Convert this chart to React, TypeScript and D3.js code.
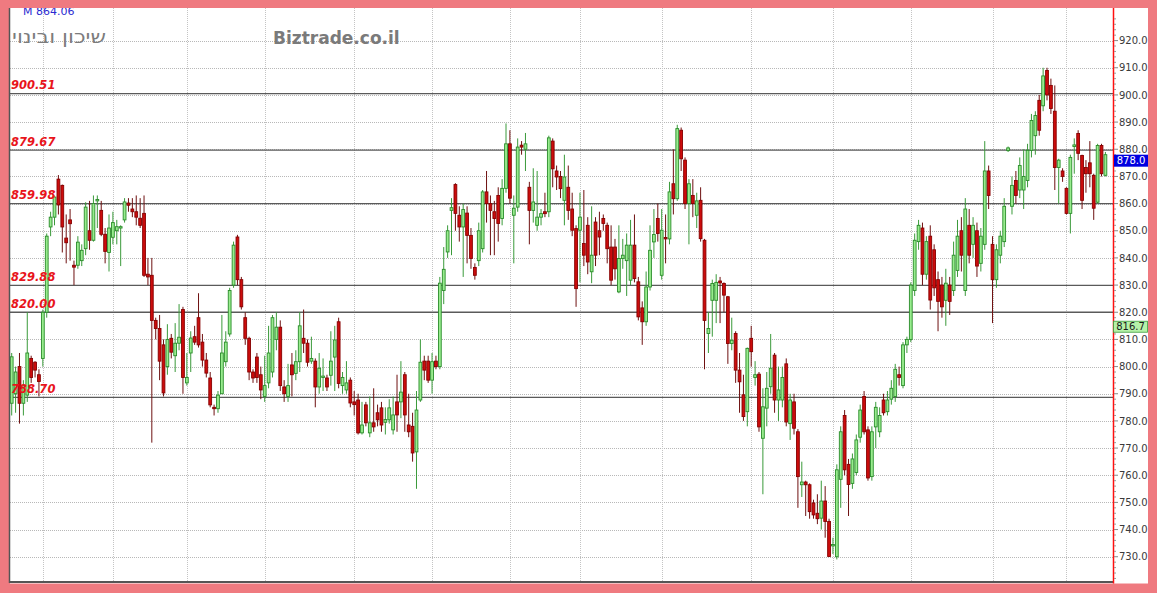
import React from 'react';
import * as d3 from 'd3';

// ---- data ----
const opens = [
  786.5, 790, 800, 786.5, 789.5, 803, 801.6, 797, 803, 820,
  851.4, 855, 869, 866.7, 847.3, 854, 837.3, 837.3, 839, 843.4,
  850, 846.5, 861, 857.5, 848.7, 842, 847.6, 850, 851, 854,
  860.2, 858, 857, 854.6, 856.4, 834, 833.6, 817, 814, 808,
  800, 810.4, 804, 808.6, 821, 794, 805, 811, 818, 809,
  802.4, 795.8, 785, 784.5, 790, 801.8, 812, 830, 847.7, 832,
  818, 810.4, 798, 803.5, 797, 789, 794, 798, 810, 814.5,
  792.5, 789, 800.6, 797.5, 801.8, 810.4, 808.6, 802, 802, 792.5,
  796, 795.8, 796.8, 803.5, 816.5, 793, 791.4, 795, 787, 787.7,
  775.6, 785.9, 775.6, 779.3, 783, 784.8, 779.5, 780.4, 776.7, 787,
  787, 797, 778.5, 778, 768.6, 787.7, 802, 802, 795, 802,
  800, 828, 842.2, 857.5, 867, 855.7, 851.4, 856.5, 848.3, 836.5,
  839, 843.4, 864.3, 860, 857, 863, 854.5, 865.6, 882, 855.7,
  858.7, 881.5, 880, 866, 857.5, 852, 855, 857, 857, 883,
  872, 870, 861.2, 866, 858, 850.8, 850.2, 845.3, 852, 834.9,
  853.2, 850, 854.5, 852, 844, 844, 827.5, 839.8, 839, 831.8,
  844.7, 831.2, 821.6, 816.5, 829.3, 845.9, 854.5, 833.6, 847.5, 847,
  867.3, 861.8, 887, 876, 860, 863, 855.7, 861.2, 846.5, 812.2,
  824.4, 824.4, 831.5, 830.6, 825.7, 808.5, 812.2, 798.7, 789.6, 783.4,
  810.4, 796, 797.2, 773.6, 784.7, 792.6, 804.2, 787.7, 787.7, 801,
  779, 787, 776, 756.5, 757.5, 756.5, 749.8, 746, 744.2, 750.5,
  743, 734, 730, 758.5, 782, 764, 757, 761, 774, 789,
  776.7, 759.5, 777.8, 776, 787.7, 783.4, 788, 789, 797, 793,
  808, 810, 828, 846, 851, 834, 848, 843, 832, 830,
  824.4, 830, 828, 835.4, 850, 828, 852, 845, 850, 838,
  845, 872, 845, 832, 841, 846, 879.5, 859, 868.5, 865,
  865, 868.5, 879.6, 885, 898, 896, 909, 903.5, 894, 873.3,
  872, 865.6, 856.4, 881, 885.8, 877.7, 873.3, 875, 870.4, 860.5,
  881.4, 870.4,
];
const highs = [
  805, 800, 805, 795, 820, 804, 802, 799, 821, 849,
  857, 863, 870.5, 867, 856, 858, 839, 848, 845, 860.5,
  861, 863, 863, 861, 851, 856, 857, 854, 852, 862,
  862, 862, 863, 862, 863, 840, 840, 818, 819, 810,
  815.6, 812, 816, 823, 822, 805, 813, 815, 827, 812,
  805, 798, 786, 791, 819, 813, 829, 846, 848.5, 833,
  820, 811, 799, 805, 800, 804, 815, 819, 820, 817,
  795, 801, 805, 806, 820, 821, 810, 811, 803, 805,
  803, 797, 813, 815, 818, 798, 802, 796, 791, 790,
  787, 787, 789, 792, 786, 787, 785, 788, 789, 797,
  802, 798, 790, 783, 791, 810, 804, 804, 805, 804,
  833, 844, 852, 862, 867.5, 859, 860, 859, 851, 838,
  853, 865, 872, 863, 861, 866, 869, 889.5, 887, 863,
  884, 883, 886, 868, 873, 872, 858, 864, 885, 884,
  874, 872, 878, 874, 864, 852, 864, 865, 855, 859,
  855, 857, 856, 853, 852, 847, 852, 847, 849, 854,
  856, 833, 824, 835, 852, 858, 860, 858, 856, 868,
  880, 889, 888, 877, 869, 869, 864, 866, 847, 820,
  832, 834, 833, 831, 826, 818, 813, 805, 797, 807,
  815, 802, 798, 792, 798, 812, 805, 800, 800, 803,
  790, 790, 777, 765, 758, 757, 751, 753, 758, 756,
  744, 737, 764, 778, 784, 766, 768, 775, 786, 791,
  778, 778, 787, 785, 790, 791, 795, 801, 800, 809,
  811, 831, 849, 854, 853, 848, 852, 845, 835, 833,
  836, 833, 846, 854, 855, 862, 858, 855, 853, 851,
  883, 874, 848, 845, 850, 862, 881, 870, 872, 877,
  880, 882, 893, 894, 900, 910, 910, 906, 903.5, 876.5,
  873, 866, 878, 884, 887, 878, 876, 883, 871, 882,
  882, 879,
];
const lows = [
  782, 783, 779, 782, 787, 794, 796, 789, 800, 818,
  848, 852, 856, 842, 838, 839, 830, 836, 837, 841,
  843, 846, 851, 848, 838, 835, 845, 845, 837, 853,
  857, 855, 852, 851, 833, 830, 772, 810, 795, 789,
  797, 803, 798, 806, 790, 793, 798, 808, 807, 800,
  796, 785, 782, 783, 790, 800, 811, 829, 830, 821,
  808, 795, 794, 794, 788, 787, 792, 796, 806, 791,
  787, 787, 789, 795, 798, 805, 800, 801, 785, 790,
  791, 791, 793, 791, 792, 790, 790, 785, 782, 775,
  775, 778, 774, 776, 778, 776, 775, 779, 775, 776,
  781, 776, 774, 765, 755, 787, 795, 794, 790, 799,
  799, 823, 840, 841, 850, 846, 833, 838, 836, 832,
  837, 842, 853, 841, 841, 846, 852, 864, 860, 838,
  857, 878, 872, 845, 853, 850, 852, 855, 855, 866,
  865, 862, 852, 854, 848, 822, 831, 837, 834, 830.7,
  837, 841, 850, 838, 830, 832, 827, 836, 826, 830,
  831, 817, 808, 815, 828, 840, 846, 832, 838, 845,
  856, 861, 872, 858, 845, 855, 851, 846, 799, 805,
  811, 816, 816, 820, 801, 806, 794, 783, 780, 778,
  800, 793, 776, 753, 778, 790, 783, 780, 785, 778,
  773, 775, 748, 752, 745, 744, 744, 742, 740, 737,
  730, 731, 729, 748, 760, 745, 755, 760, 772, 775,
  758, 758, 770, 774, 782, 782, 786, 787, 793, 792,
  805, 809, 826, 843, 830, 832, 821, 826, 813, 818,
  815, 819, 826, 833, 835, 826, 838, 840, 833, 835,
  843, 858, 816, 829, 838, 844, 879, 856, 860, 862,
  858, 866, 877, 878, 885, 894, 898, 893, 865, 860,
  868, 856, 849, 871, 876, 858, 864, 866, 854, 860,
  870, 870,
];
const closes = [
  803.6, 798, 786.5, 793, 805, 796, 798.7, 794.5, 820, 848,
  855, 862.4, 859.5, 851.4, 845.6, 852.6, 836.6, 845.8, 842.8, 858.7,
  846.5, 860, 861.5, 848.7, 842.4, 851, 853, 851.5, 851.5, 860.6,
  859.4, 857, 855, 852, 833.6, 833, 817, 814, 802, 790.3,
  810, 805.3, 808.6, 810.8, 796, 796, 810.5, 809, 808, 802.4,
  797.6, 785.9, 784.5, 789.5, 805, 809, 828, 844.7, 832, 822,
  810.4, 798, 795.8, 796, 791.4, 793, 805, 818, 814.5, 793,
  790, 793, 797, 801.8, 815, 808.6, 801.6, 803, 792.5, 799.4,
  796.5, 792.5, 802, 809.8, 793.8, 796, 794, 786.6, 786, 775.6,
  778.5, 779.3, 779.3, 777.8, 780.4, 778.5, 780.5, 784.8, 782.2, 782.2,
  790.6, 782.2, 776, 768.2, 784, 801.6, 798.7, 795, 801.8, 800,
  830.7, 835.8, 850, 858.5, 856.4, 851.4, 857.8, 848.3, 839.8, 833.6,
  850, 864.3, 860, 857.5, 854.5, 852.7, 865.6, 882, 862, 858.3,
  880.8, 880.8, 882, 857.5, 860.6, 855, 856.3, 856.3, 884.2, 872.8,
  869.8, 865.5, 869.8, 857.5, 850.2, 828.7, 855, 841, 838.5, 841,
  841, 847.7, 852.7, 843.4, 831.8, 836, 839.8, 841, 844.7, 844.7,
  832.4, 818.3, 816.5, 829.3, 842.8, 848.6, 849, 850.2, 847, 864.3,
  861.8, 887.6, 876.5, 860, 867.3, 860, 861, 847.1, 817, 814,
  830.6, 831, 830.8, 826.3, 808.5, 809.7, 798.7, 794.4, 781.6, 806.7,
  805.5, 797, 777.8, 785.2, 792, 799.4, 787.7, 791.4, 796, 779.6,
  787.7, 777.3, 759.5, 757.5, 756.5, 746.6, 745.4, 744, 750.5, 743,
  730.1, 734.5, 762, 776, 762, 756.6, 766, 773, 784, 776,
  759, 776, 785, 782, 783, 787.7, 792, 799, 796, 808,
  810, 830, 846.5, 852, 834, 846, 824.5, 829, 824, 822,
  830.7, 824, 841, 848, 841, 858, 841, 852, 837, 848,
  872, 863, 832, 843, 848, 859, 880.5, 866.7, 863, 874,
  870, 879.6, 890.6, 892.4, 887, 907, 900, 895, 873.3, 876,
  870, 856.4, 877, 881.6, 878.5, 861.2, 871, 871, 858.3, 881.4,
  871, 878,
];

const supportLevels = [900.51, 879.67, 859.98, 829.88, 820.0, 788.7];
const priceTicks = [730, 740, 750, 760, 770, 780, 790, 800, 810, 820, 830, 840, 850, 860, 870, 880, 890, 900, 910, 920];
const monthStartIndex = [9, 27, 46, 66, 89, 109, 129, 147, 168, 191, 212, 232, 253, 272];
const lastPrice = 878.0;
const averageValue = 816.7;
const stockName = 'שיכון ובינוי';
const brandName = 'Biztrade.co.il';
const averageCaption = 'M 864.06';

// ---- layout ----
const W = 1157;
const H = 593;
const PL = 10;
const PR = 1113;
const PT = 8;
const PB = 582;
const PANEL_R = 1148;

export default function App() {
  const n = opens.length;
  const x = d3.scaleLinear().domain([1, n]).range([11.7, 1105.4]);
  const y = d3.scaleLinear().domain([720.7, 932]).range([PB, PT]);
  const minorTicks = d3.range(722, 932, 2).filter((v) => v % 10 !== 0);
  const bodyW = 2.8;

  const candles = opens.map((o, i) => {
    const c = closes[i];
    const up = c >= o;
    const cx = x(i + 1);
    const top = y(Math.max(o, c));
    const bot = y(Math.min(o, c));
    return { i, cx, up, top, h: Math.max(1, bot - top), hy: y(highs[i]), ly: y(lows[i]) };
  });

  return (
    <svg width={W} height={H} style={{ position: 'absolute', left: 0, top: 0, display: 'block' }}
      xmlns="http://www.w3.org/2000/svg">
      <defs>
        <clipPath id="plotClip">
          <rect x={PL} y={PT} width={PR - PL} height={PB - PT} />
        </clipPath>
      </defs>
      <rect x={0} y={0} width={W} height={H} fill="#ef7a80" />
      <rect x={PL} y={PT} width={PANEL_R - PL} height={PB - PT + 1.5} fill="#ffffff" />

      {/* horizontal grid */}
      {priceTicks.map((t) => (
        <line key={'hg' + t} x1={PL} x2={PR} y1={Math.round(y(t)) + 0.5} y2={Math.round(y(t)) + 0.5}
          stroke="#b8b8b8" strokeWidth={1} strokeDasharray="1,1" />
      ))}
      {/* vertical grid */}
      {monthStartIndex.map((k) => (
        <line key={'vg' + k} x1={Math.round(x(k)) + 0.5} x2={Math.round(x(k)) + 0.5} y1={PT} y2={PB}
          stroke="#c4c4c4" strokeWidth={1} strokeDasharray="1,1" />
      ))}

      {/* level lines */}
      {supportLevels.map((v) => (
        <line key={'lv' + v} x1={PL} x2={PR} y1={y(v)} y2={y(v)} stroke="#5a5a5a" strokeWidth={1.3} />
      ))}

      {/* candles */}
      <g clipPath="url(#plotClip)">
        {candles.map((d) => (
          <g key={'c' + d.i}>
            <line x1={d.cx} x2={d.cx} y1={d.hy} y2={d.ly} stroke={d.up ? '#3a9a3a' : '#6e1010'} strokeWidth={1} />
            <rect x={d.cx - bodyW / 2} y={d.top} width={bodyW} height={d.h}
              fill={d.up ? '#98ec8e' : '#cc0c0c'} stroke={d.up ? '#2a8c2a' : '#860000'} strokeWidth={0.9} />
          </g>
        ))}
      </g>

      {/* level labels */}
      {supportLevels.map((v) => (
        <text key={'ll' + v} x={11} y={y(v) - 4.5} fill="#e8141b" fontFamily="DejaVu Sans, Verdana, sans-serif"
          fontWeight="bold" fontStyle="italic" fontSize={11.5}>
          {v.toFixed(2)}
        </text>
      ))}

      {/* titles */}
      <text x={23} y={15} fill="#2a2ad0" fontFamily="DejaVu Sans, sans-serif" fontSize={11}>{averageCaption}</text>
      <text x={12} y={43} fill="#7c7c7c" fontFamily="DejaVu Sans, Liberation Sans, sans-serif" fontSize={18}
        textLength={94} lengthAdjust="spacingAndGlyphs">{stockName}</text>
      <text x={273} y={44} fill="#7a7a7a" fontFamily="DejaVu Sans, Verdana, sans-serif" fontWeight="bold" fontSize={17}>{brandName}</text>

      {/* top border strip covers the clipped caption */}
      <rect x={0} y={0} width={W} height={PT} fill="#ef7a80" />

      {/* frame */}
      <line x1={PL - 0.5} x2={PL - 0.5} y1={PT} y2={PB + 1} stroke="#555" strokeWidth={1.5} />
      <line x1={PL} x2={PR} y1={PB} y2={PB} stroke="#555" strokeWidth={2} />
      <line x1={PR + 0.5} x2={PR + 0.5} y1={PT} y2={PB + 1.5} stroke="#ff1010" strokeWidth={1.5} />

      {/* right axis */}
      {minorTicks.map((t) => (
        <line key={'mt' + t} x1={PR + 1} x2={PR + 3} y1={y(t)} y2={y(t)} stroke="#999" strokeWidth={1} />
      ))}
      {priceTicks.map((t) => (
        <g key={'yt' + t}>
          <line x1={PR + 1} x2={PR + 5} y1={y(t)} y2={y(t)} stroke="#888" strokeWidth={1} />
          <text x={1119} y={y(t)} dy="0.36em" fill="#3a3a3a" fontFamily="DejaVu Sans, Verdana, sans-serif" fontSize={10}>
            {t.toFixed(1)}
          </text>
        </g>
      ))}

      {/* value tags */}
      <rect x={PR + 1} y={y(lastPrice)} width={34} height={12} fill="#0000e0" />
      <text x={PR + 18} y={y(lastPrice) + 6} dy="0.36em" textAnchor="middle" fill="#ffffff"
        fontFamily="DejaVu Sans, Verdana, sans-serif" fontSize={10}>{lastPrice.toFixed(1)}</text>
      <rect x={PR + 0.5} y={y(averageValue)} width={34} height={11} fill="#b5f2a8" stroke="#3a9a3a" strokeWidth={0.8} />
      <text x={PR + 17.5} y={y(averageValue) + 5.5} dy="0.36em" textAnchor="middle" fill="#1a1a1a"
        fontFamily="DejaVu Sans, Verdana, sans-serif" fontSize={10}>{averageValue.toFixed(1)}</text>
    </svg>
  );
}
